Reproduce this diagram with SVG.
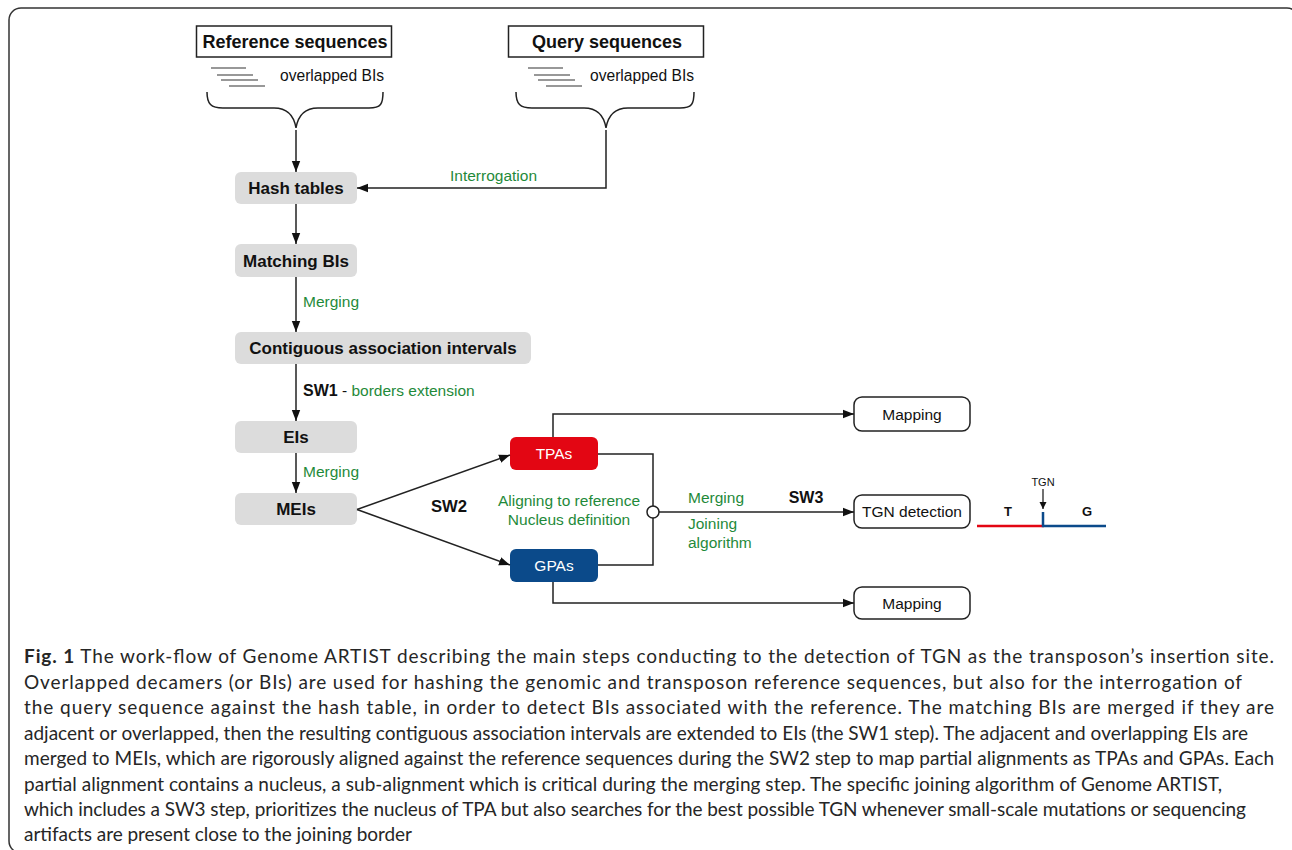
<svg xmlns="http://www.w3.org/2000/svg" width="1292" height="850" viewBox="0 0 1292 850">
<defs>
<marker id="ah" markerUnits="userSpaceOnUse" markerWidth="12" markerHeight="10" refX="11" refY="5" orient="auto">
<path d="M0,0.8 L11,5 L0,9.2 z" fill="#111"/>
</marker>
<marker id="ahs" markerUnits="userSpaceOnUse" markerWidth="8" markerHeight="8" refX="7" refY="4" orient="auto">
<path d="M0,0.5 L7,4 L0,7.5 z" fill="#111"/>
</marker>
<style>
.ln{fill:none;stroke:#222;stroke-width:1.5}
.gn{fill:#dcdcdc}
.bt{font-family:"Liberation Sans",Arial,sans-serif;font-weight:bold;fill:#111;text-anchor:middle}
.rt{font-family:"Liberation Sans",Arial,sans-serif;fill:#111}
.gr{font-family:"Liberation Sans",Arial,sans-serif;fill:#1f8a3a;font-size:15.5px}
.wt{font-family:"Liberation Sans",Arial,sans-serif;fill:#fff;font-size:15.5px;text-anchor:middle}
.wb{fill:#fff;stroke:#222;stroke-width:1.5}
.cap{font-family:Lato,"Open Sans",sans-serif;font-size:19px;fill:#262626}
.ic{stroke:#333;stroke-width:1.2}
</style>
</defs>
<rect x="9" y="8" width="1290" height="845" rx="12" fill="#fff" stroke="#333" stroke-width="1.5"/>

<g id="ref-seq">
<rect x="196.5" y="26" width="195" height="31" fill="#fff" stroke="#222" stroke-width="1.5"/>
<text class="bt" x="295" y="48" font-size="18">Reference sequences</text>
<g class="ic"><line x1="211" y1="68" x2="246" y2="68"/><line x1="217" y1="75" x2="253" y2="75"/><line x1="221" y1="80" x2="258" y2="80"/><line x1="229" y1="86" x2="265" y2="86"/></g>
<text class="rt" x="280" y="81" font-size="15.6">overlapped BIs</text>
<path class="ln" d="M207,92 C207,104 211,108 223,108 L274,108 C288,108 294,116 296,128 C298,116 304,108 318,108 L369,108 C381,108 383,104 383,92"/>
</g>

<g id="query-seq">
<rect x="508.5" y="26" width="195" height="31" fill="#fff" stroke="#222" stroke-width="1.5"/>
<text class="bt" x="607" y="48" font-size="18">Query sequences</text>
<g class="ic"><line x1="528" y1="68" x2="563" y2="68"/><line x1="534" y1="75" x2="570" y2="75"/><line x1="538" y1="80" x2="575" y2="80"/><line x1="546" y1="86" x2="582" y2="86"/></g>
<text class="rt" x="590" y="81" font-size="15.6">overlapped BIs</text>
<path class="ln" d="M516,92 C516,104 520,108 532,108 L584,108 C598,108 604,116 606,128 C608,116 614,108 628,108 L680,108 C692,108 694,104 694,92"/>
</g>

<g id="hash-tables"><rect class="gn" x="235" y="172" width="122" height="32" rx="6"/><text class="bt" x="296" y="194" font-size="17">Hash tables</text></g>
<g id="matching-bis"><rect class="gn" x="235" y="244" width="122" height="33" rx="6"/><text class="bt" x="296" y="266.5" font-size="17">Matching BIs</text></g>
<g id="contiguous"><rect class="gn" x="235" y="332" width="296" height="32" rx="6"/><text class="bt" x="383" y="354" font-size="17">Contiguous association intervals</text></g>
<g id="eis"><rect class="gn" x="235" y="421" width="122" height="32" rx="6"/><text class="bt" x="296" y="443" font-size="17">EIs</text></g>
<g id="meis"><rect class="gn" x="235" y="493" width="122" height="32" rx="6"/><text class="bt" x="296" y="515" font-size="17">MEIs</text></g>
<g id="tpas"><rect x="510" y="437" width="88" height="33" rx="6" fill="#e30613"/><text class="wt" x="554" y="459">TPAs</text></g>
<g id="gpas"><rect x="510" y="549" width="88" height="33" rx="6" fill="#0b4a8a"/><text class="wt" x="554" y="571">GPAs</text></g>
<g id="mapping-top"><rect class="wb" x="854" y="397" width="116" height="34" rx="8"/><text class="rt" x="912" y="419.5" font-size="15.5" text-anchor="middle">Mapping</text></g>
<g id="tgn-detection"><rect class="wb" x="854" y="495" width="116" height="33" rx="8"/><text class="rt" x="912" y="517" font-size="15.5" text-anchor="middle">TGN detection</text></g>
<g id="mapping-bottom"><rect class="wb" x="854" y="587" width="116" height="32" rx="8"/><text class="rt" x="912" y="608.5" font-size="15.5" text-anchor="middle">Mapping</text></g>

<g id="connectors">
<line class="ln" x1="296" y1="130" x2="296" y2="172" marker-end="url(#ah)"/>
<polyline class="ln" points="606,130 606,188 357,188" marker-end="url(#ah)"/>
<line class="ln" x1="296" y1="204" x2="296" y2="244" marker-end="url(#ah)"/>
<line class="ln" x1="296" y1="277" x2="296" y2="332" marker-end="url(#ah)"/>
<line class="ln" x1="296" y1="364" x2="296" y2="421" marker-end="url(#ah)"/>
<line class="ln" x1="296" y1="453" x2="296" y2="493" marker-end="url(#ah)"/>
<line class="ln" x1="357" y1="509.5" x2="510" y2="455" marker-end="url(#ah)"/>
<line class="ln" x1="357" y1="509.5" x2="510" y2="565" marker-end="url(#ah)"/>
<polyline class="ln" points="553,437 553,414 854,414" marker-end="url(#ah)"/>
<polyline class="ln" points="553,582 553,603 854,603" marker-end="url(#ah)"/>
<polyline class="ln" points="598,454 653,454 653,565 598,565"/>
<line class="ln" x1="659" y1="512" x2="854" y2="512" marker-end="url(#ah)"/>
<circle cx="653" cy="512" r="6" fill="#fff" stroke="#222" stroke-width="1.5"/>
</g>

<g id="labels">
<text class="gr" x="450" y="181">Interrogation</text>
<text class="gr" x="303" y="307">Merging</text>
<text x="303" y="396"><tspan class="bt" style="text-anchor:start" font-size="16">SW1</tspan><tspan class="rt" font-size="15.5"> - </tspan><tspan class="gr">borders extension</tspan></text>
<text class="gr" x="303" y="477">Merging</text>
<text class="bt" x="449" y="512" font-size="16.7">SW2</text>
<text class="gr" x="569" y="506" text-anchor="middle">Aligning to reference</text>
<text class="gr" x="569" y="525" text-anchor="middle">Nucleus definition</text>
<text class="gr" x="688" y="503">Merging</text>
<text class="gr" x="688" y="529">Joining</text>
<text class="gr" x="688" y="548">algorithm</text>
<text class="bt" x="806" y="503" font-size="16">SW3</text>
</g>

<g id="tgn-diagram">
<line x1="977" y1="526" x2="1044" y2="526" stroke="#e30613" stroke-width="2.5"/>
<polyline points="1043,512 1043,526 1106,526" fill="none" stroke="#0b4a8a" stroke-width="2.5"/>
<line x1="1043" y1="489" x2="1043" y2="509" stroke="#111" stroke-width="1.2" marker-end="url(#ahs)"/>
<text class="rt" x="1043" y="486" font-size="11" text-anchor="middle">TGN</text>
<text class="bt" x="1008" y="516" font-size="13">T</text>
<text class="bt" x="1087" y="516" font-size="13">G</text>
</g>

<g id="caption" class="cap">
<text x="24" y="663" textLength="1250" lengthAdjust="spacing"><tspan font-weight="bold">Fig. 1</tspan> The work-flow of Genome ARTIST describing the main steps conducting to the detection of TGN as the transposon’s insertion site.</text>
<text x="24" y="689" textLength="1218" lengthAdjust="spacing">Overlapped decamers (or BIs) are used for hashing the genomic and transposon reference sequences, but also for the interrogation of</text>
<text x="24" y="714" textLength="1250" lengthAdjust="spacing">the query sequence against the hash table, in order to detect BIs associated with the reference. The matching BIs are merged if they are</text>
<text x="24" y="740" textLength="1224" lengthAdjust="spacing">adjacent or overlapped, then the resulting contiguous association intervals are extended to EIs (the SW1 step). The adjacent and overlapping EIs are</text>
<text x="24" y="765" textLength="1250" lengthAdjust="spacing">merged to MEIs, which are rigorously aligned against the reference sequences during the SW2 step to map partial alignments as TPAs and GPAs. Each</text>
<text x="24" y="791" textLength="1198" lengthAdjust="spacing">partial alignment contains a nucleus, a sub-alignment which is critical during the merging step. The specific joining algorithm of Genome ARTIST,</text>
<text x="24" y="816" textLength="1222" lengthAdjust="spacing">which includes a SW3 step, prioritizes the nucleus of TPA but also searches for the best possible TGN whenever small-scale mutations or sequencing</text>
<text x="24" y="841" textLength="388" lengthAdjust="spacing">artifacts are present close to the joining border</text>
</g>
</svg>
